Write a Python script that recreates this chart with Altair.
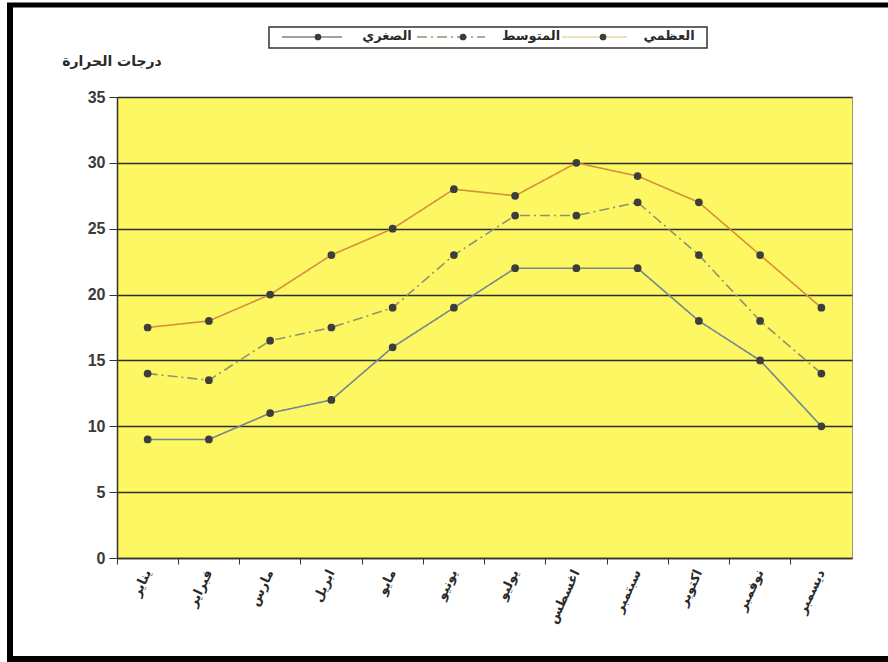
import altair as alt
import pandas as pd

months = ["يناير", "فبراير", "مارس", "ابريل", "مايو", "يونيو",
          "يوليو", "اغسطس", "سبتمبر", "اكتوبر", "نوفمبر", "ديسمبر"]
series_names = ["الصغري", "المتوسط", "العظمي"]
max_vals = [17.5, 18, 20, 23, 25, 28, 27.5, 30, 29, 27, 23, 19]
mean_vals = [14, 13.5, 16.5, 17.5, 19, 23, 26, 26, 27, 23, 18, 14]
min_vals = [9, 9, 11, 12, 16, 19, 22, 22, 22, 18, 15, 10]
y_ticks = [0, 5, 10, 15, 20, 25, 30, 35]
y_title = "درجات الحرارة"

rows = []
for name, vals in zip(series_names, [min_vals, mean_vals, max_vals]):
    for m, v in zip(months, vals):
        rows.append({"month": m, "series": name, "value": v})
df = pd.DataFrame(rows)

line_colors = {"الصغري": "#76878f", "المتوسط": "#8f9470", "العظمي": "#d4913a"}
dashes = {"الصغري": [1, 0], "المتوسط": [10, 4, 2, 4], "العظمي": [1, 0]}
marker_color = "#3d3d3d"

W, H = 735, 461
PL, PT, PR, PB = 117, 97, 36, 104

x_enc = alt.X("month:N", sort=months, title=None,
              scale=alt.Scale(type="band", paddingInner=0, paddingOuter=0),
              axis=alt.Axis(bandPosition=0, labelAngle=-65, labelAlign="right",
                            labelBaseline="middle", labelFont="DejaVu Sans",
                            labelFontSize=13, labelFontWeight="bold",
                            labelColor="#2a2a2a", labelPadding=6,
                            tickColor="#333", tickSize=6, domainColor="#333",
                            domainWidth=1.5, grid=False))
y_enc = alt.Y("value:Q", title=None,
              scale=alt.Scale(domain=[0, 35], nice=False, zero=True),
              axis=alt.Axis(values=y_ticks, grid=True, gridColor="#2e2e2e",
                            gridWidth=1.5, labelFont="Liberation Sans",
                            labelFontSize=16, labelFontWeight="bold",
                            labelColor="#3a3a3a", labelPadding=4,
                            tickColor="#333", tickSize=8, domainColor="#333",
                            domainWidth=1.5))

lines = alt.Chart(df).mark_line(strokeWidth=1.6).encode(
    x=x_enc, y=y_enc,
    color=alt.Color("series:N", legend=None,
                    scale=alt.Scale(domain=series_names,
                                    range=[line_colors[s] for s in series_names])),
    strokeDash=alt.StrokeDash("series:N", legend=None,
                              scale=alt.Scale(domain=series_names,
                                              range=[dashes[s] for s in series_names])),
    detail="series:N",
)
points = alt.Chart(df).mark_point(filled=True, size=60, color=marker_color, opacity=1).encode(
    x=x_enc, y=y_enc, detail="series:N")

dummy = pd.DataFrame({"a": [0]})

def rule(x1, x2, y1, y2, color, width, dash=None):
    kw = dict(color=color, strokeWidth=width)
    if dash:
        kw["strokeDash"] = dash
    return alt.Chart(dummy).mark_rule(**kw).encode(
        x=alt.value(x1), x2=alt.value(x2), y=alt.value(y1), y2=alt.value(y2))

def text(x, y, s, size=13, weight="bold", font="DejaVu Sans", color="#2a2a2a"):
    return alt.Chart(dummy).mark_text(fontSize=size, fontWeight=weight, font=font,
                                      color=color, align="center", baseline="middle").encode(
        x=alt.value(x), y=alt.value(y), text=alt.value(s))

def dot(x, y):
    return alt.Chart(dummy).mark_point(filled=True, size=45, color=marker_color, opacity=1).encode(
        x=alt.value(x), y=alt.value(y))

# outer frame (top, left, bottom)
frame = [
    rule(-110, 888 - PL, -92, -92, "#000", 5),
    rule(-107, -107, -94, 662 - PT, "#000", 6),
    rule(-110, 888 - PL, 562, 562, "#000", 6),
]

# legend box
leg_y = -60
legend_box = alt.Chart(dummy).mark_rect(fill="white", stroke="#333", strokeWidth=1.5).encode(
    x=alt.value(152), x2=alt.value(590), y=alt.value(-70), y2=alt.value(-49))
legend = [legend_box,
          rule(165, 225, leg_y, leg_y, line_colors["الصغري"], 1.6), dot(201, leg_y),
          text(270, leg_y - 1, "الصغري"),
          rule(300, 368, leg_y, leg_y, line_colors["المتوسط"], 1.6, [10, 4, 2, 4]), dot(346, leg_y),
          text(414, leg_y - 1, "المتوسط"),
          rule(445, 510, leg_y, leg_y, "#e8d9a0", 1.6), dot(486, leg_y),
          text(552, leg_y - 1, "العظمي"),
          ]

ytitle = text(-5, -35, y_title, size=14)

chart = alt.layer(lines, points, ytitle, *legend, *frame).properties(
    width=W, height=H,
    autosize=alt.AutoSizeParams(type="none"),
    padding={"left": PL, "top": PT, "right": PR, "bottom": PB},
    background="white",
).configure_view(fill="#fcf762", stroke="#9a9a7a", strokeWidth=1)

chart.save("out.html", embed_options={"renderer": "svg", "actions": False})
